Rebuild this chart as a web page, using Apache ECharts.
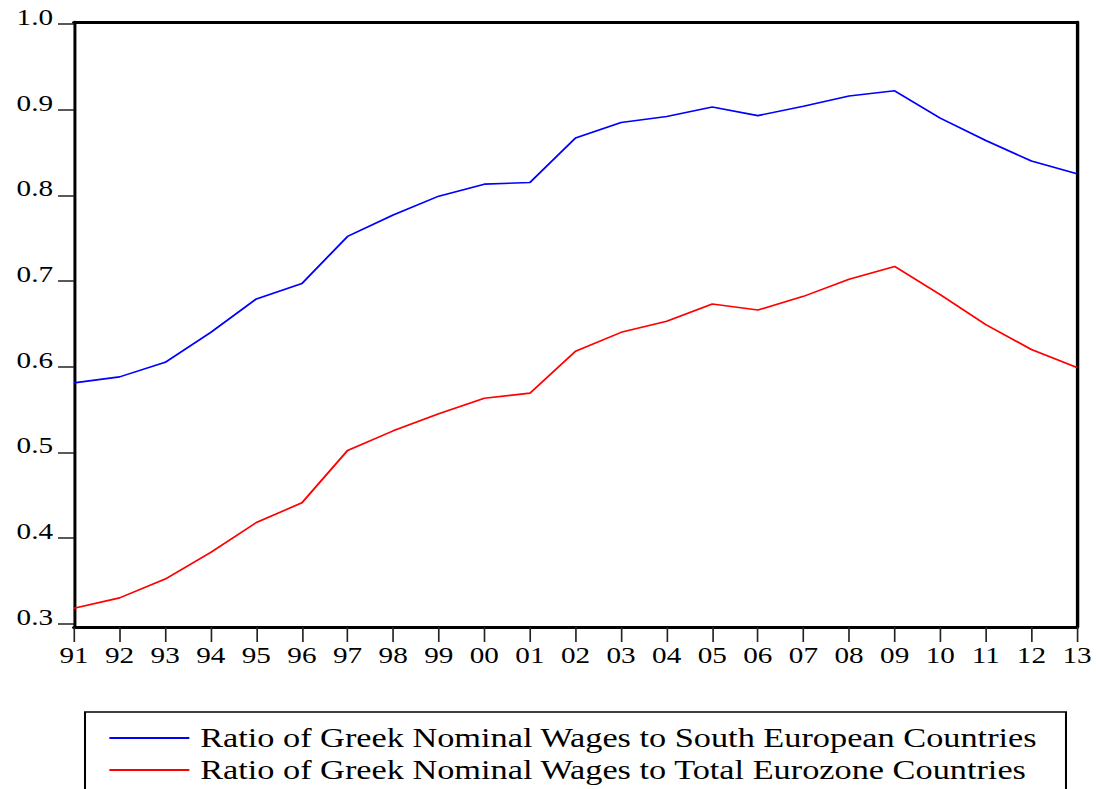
<!DOCTYPE html>
<html>
<head>
<meta charset="utf-8">
<script src="https://cdn.jsdelivr.net/npm/echarts@6/dist/echarts.min.js"></script>
<style>
html,body{margin:0;padding:0;background:#fff;overflow:hidden;}
#wrap{width:1096px;height:789px;overflow:hidden;}
#chart{width:863px;height:789px;transform:scaleX(1.26998);transform-origin:0 0;}
</style>
</head>
<body>
<div id="wrap"><div id="chart"></div></div>
<script>
const years = ['91','92','93','94','95','96','97','98','99','00','01','02','03','04','05','06','07','08','09','10','11','12','13'];
const southEurope = [0.581,0.588,0.605,0.640,0.679,0.697,0.752,0.777,0.799,0.813,0.815,0.867,0.885,0.892,0.903,0.893,0.904,0.916,0.922,0.890,0.864,0.840,0.825];
const eurozone = [0.318,0.330,0.352,0.383,0.418,0.441,0.502,0.525,0.545,0.563,0.569,0.618,0.640,0.653,0.673,0.666,0.682,0.702,0.717,0.684,0.649,0.620,0.599];
const yTicks = [0.3,0.4,0.5,0.6,0.7,0.8,0.9,1.0];
const names = ['Ratio of Greek Nominal Wages to South European Countries','Ratio of Greek Nominal Wages to Total Eurozone Countries'];

// The reference's text is horizontally stretched; draw at 1/S width and stretch by S.
const S = 1096 / 863;
const font = '"Liberation Serif","Times New Roman",serif';
const chart = echarts.init(document.getElementById('chart'), null, {renderer:'svg', width:863, height:789});
const legendCommon = {
  orient:'vertical', left:103/S, itemWidth:80/S, itemHeight:1.8, icon:'rect',
  textStyle:{fontFamily:font,fontSize:27,color:'#000',padding:[0,0,0,3.5]}
};
chart.setOption({
  animation:false,
  backgroundColor:'#fff',
  grid:{left:74/S,right:19/S,top:22,bottom:162,show:false},
  xAxis:[{
    type:'category',data:years,boundaryGap:false,
    axisLine:{show:true,lineStyle:{color:'#000',width:3}},
    axisTick:{show:true,alignWithLabel:true,length:15,lineStyle:{color:'#222',width:1.3}},
    axisLabel:{color:'#000',fontFamily:font,fontSize:23,lineHeight:22,margin:18,interval:0},
    splitLine:{show:false}
  },{
    type:'category',data:years,boundaryGap:false,position:'top',
    axisLine:{show:true,lineStyle:{color:'#000',width:3}},
    axisTick:{show:false},axisLabel:{show:false},splitLine:{show:false}
  }],
  yAxis:[{
    type:'value',min:0.296,max:1.0023,
    axisLine:{show:true,lineStyle:{color:'#000',width:3/S}},
    axisTick:{show:true,length:16/S,customValues:yTicks,lineStyle:{color:'#222',width:1.5}},
    axisLabel:{color:'#000',fontFamily:font,fontSize:23,lineHeight:13,verticalAlign:'bottom',margin:16.5,customValues:yTicks,formatter:v=>v.toFixed(1)},
    splitLine:{show:false}
  },{
    type:'value',min:0.296,max:1.0023,position:'right',
    axisLine:{show:true,lineStyle:{color:'#000',width:3.4/S}},
    axisTick:{show:false},axisLabel:{show:false},splitLine:{show:false}
  }],
  legend:[
    Object.assign({top:719.5,data:[names[0]]},legendCommon),
    Object.assign({top:751.5,data:[names[1]]},legendCommon)
  ],
  graphic:[{type:'rect',shape:{x:85/S,y:712,width:981/S,height:100},style:{fill:'none',stroke:'#000',lineWidth:1.6},silent:true}],
  series:[
    {name:names[0],type:'line',data:southEurope,showSymbol:false,symbol:'none',lineStyle:{color:'#0000ff',width:1.6},itemStyle:{color:'#0000ff'}},
    {name:names[1],type:'line',data:eurozone,showSymbol:false,symbol:'none',lineStyle:{color:'#ff0000',width:1.6},itemStyle:{color:'#ff0000'}}
  ]
});
</script>
</body>
</html>
